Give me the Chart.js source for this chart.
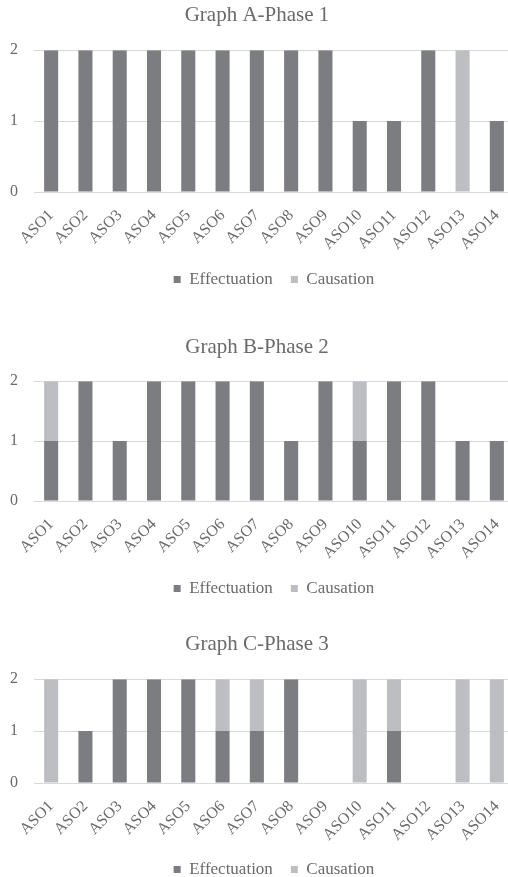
<!DOCTYPE html>
<html>
<head>
<meta charset="utf-8">
<script src="https://cdn.jsdelivr.net/npm/chart.js@4.4.1/dist/chart.umd.min.js"></script>
<style>
  html, body { margin: 0; padding: 0; background: #fff; overflow: hidden; }
  .wrap { position: absolute; left: 0; width: 522px; }
  canvas { display: block; }
</style>
</head>
<body>
<div class="wrap" style="top:0;height:298px"><canvas id="ca"></canvas></div>
<div class="wrap" style="top:298px;height:309px"><canvas id="cb"></canvas></div>
<div class="wrap" style="top:607px;height:281px"><canvas id="cc"></canvas></div>
<script>
// Categories shared by all three phases
const asoLabels = ['ASO1','ASO2','ASO3','ASO4','ASO5','ASO6','ASO7','ASO8','ASO9','ASO10','ASO11','ASO12','ASO13','ASO14'];
const yTicks = [0, 1, 2];

// Phase 1
const phase1Effectuation = [2,2,2,2,2,2,2,2,2,1,1,2,0,1];
const phase1Causation    = [0,0,0,0,0,0,0,0,0,0,0,0,2,0];
// Phase 2
const phase2Effectuation = [1,2,1,2,2,2,2,1,2,1,2,2,1,1];
const phase2Causation    = [1,0,0,0,0,0,0,0,0,1,0,0,0,0];
// Phase 3
const phase3Effectuation = [0,1,2,2,2,1,1,2,0,0,1,0,0,0];
const phase3Causation    = [2,0,0,0,0,1,1,0,0,2,1,0,2,2];

const EFF_COLOR = '#7c7d81';
const CAU_COLOR = '#bdbec1';
const TEXT_COLOR = '#6a6a6a';
const GRID_COLOR = '#d9d9d9';
const SERIF = '"Liberation Serif", "Times New Roman", serif';

function makeChart(id, title, eff, cau, titlePad, xAxisHeight) {
  return new Chart(document.getElementById(id), {
    type: 'bar',
    data: {
      labels: asoLabels,
      datasets: [
        { label: 'Effectuation', data: eff, backgroundColor: EFF_COLOR, categoryPercentage: 1, barPercentage: 0.41 },
        { label: 'Causation', data: cau, backgroundColor: CAU_COLOR, categoryPercentage: 1, barPercentage: 0.41 }
      ]
    },
    options: {
      responsive: true,
      maintainAspectRatio: false,
      animation: false,
      layout: { padding: { left: 0, right: 8, top: 0, bottom: 0 } },
      plugins: {
        title: {
          display: true,
          text: title,
          color: TEXT_COLOR,
          font: { family: SERIF, size: 21, weight: 'normal' },
          padding: titlePad
        },
        legend: {
          display: true,
          position: 'bottom',
          fullSize: false,
          labels: {
            color: TEXT_COLOR,
            font: { family: SERIF, size: 17 },
            boxWidth: 7,
            boxHeight: 7,
            padding: 18
          }
        },
        tooltip: { enabled: false }
      },
      scales: {
        x: {
          stacked: true,
          grid: { display: false },
          border: { display: false },
          ticks: {
            color: TEXT_COLOR,
            font: { family: SERIF, size: 16 },
            minRotation: 45,
            maxRotation: 45,
            padding: 6
          },
          afterFit: (s) => { s.height = xAxisHeight; }
        },
        y: {
          stacked: true,
          min: 0,
          max: 2,
          afterBuildTicks: (s) => { s.ticks = yTicks.map(v => ({ value: v })); },
          grid: { color: GRID_COLOR, lineWidth: 1, drawTicks: false },
          border: { display: false },
          ticks: {
            color: TEXT_COLOR,
            font: { family: SERIF, size: 16 },
            padding: 16
          },
          afterFit: (s) => { s.width = 34; }
        }
      }
    }
  });
}

makeChart('ca', 'Graph A-Phase 1', phase1Effectuation, phase1Causation, { top: 3, bottom: 22 }, 61);
makeChart('cb', 'Graph B-Phase 2', phase2Effectuation, phase2Causation, { top: 37, bottom: 21 }, 61);
makeChart('cc', 'Graph C-Phase 3', phase3Effectuation, phase3Causation, { top: 25, bottom: 22 }, 60);
</script>
</body>
</html>
